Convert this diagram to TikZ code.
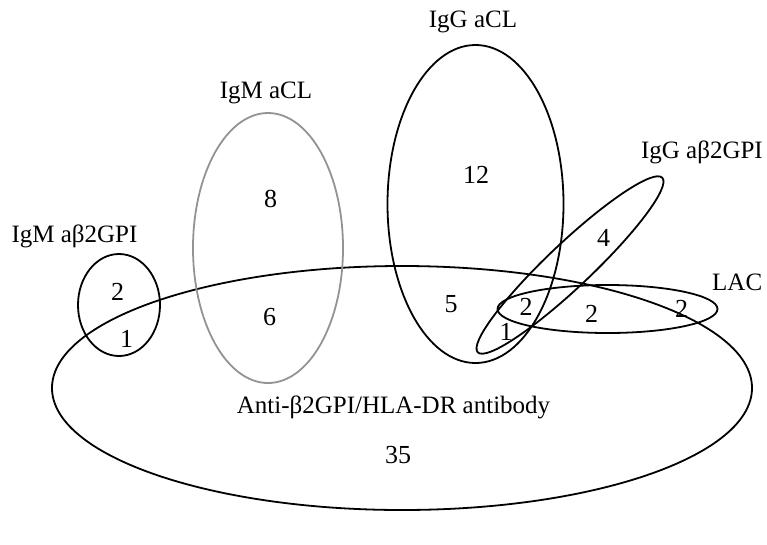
\documentclass[tikz,border=0pt]{standalone}
\usepackage{fontspec}
\setmainfont{Liberation Serif}
\begin{document}
\begin{tikzpicture}[x=1pt,y=-1pt,
  setline/.style={line width=1.8pt,black},
  greyline/.style={line width=1.8pt,gray!85},
  lbl/.style={font=\fontsize{25}{28}\selectfont,inner sep=0pt,anchor=base},
  num/.style={font=\fontsize{26}{28}\selectfont,inner sep=0pt,anchor=base}]
\useasboundingbox (0,0) rectangle (767,544);
% sets
\draw[setline] (402,388) ellipse [x radius=350pt, y radius=122pt];
\draw[setline] (119,305) ellipse [x radius=41pt, y radius=51pt];
\draw[greyline] (268,248) ellipse [x radius=75pt, y radius=135pt];
\draw[setline] (475.5,204) ellipse [x radius=88pt, y radius=159pt];
\draw[setline,rotate around={43.4:(570,265)}] (570,265) ellipse [x radius=127pt, y radius=22pt];
\draw[setline] (607.5,309) ellipse [x radius=110pt, y radius=24pt];
% set names
\node[lbl] (igGacl) at (473,27) {IgG aCL};
\node[lbl] (igMacl) at (266,98) {IgM aCL};
\node[lbl,anchor=base east] (igGb2) at (763,158) {IgG aβ2GPI};
\node[lbl] (igMb2) at (74.5,242) {IgM aβ2GPI};
\node[lbl,anchor=base west] (lac) at (712,290) {LAC};
\node[lbl] (hla) at (393.5,413) {Anti-β2GPI/HLA-DR antibody};
% counts
\node[num] (n35) at (398,463) {35};
\node[num] (n12) at (476,183) {12};
\node[num] (n8) at (270.5,207) {8};
\node[num] (n6) at (269.5,325) {6};
\node[num] (m2) at (117.5,300) {2};
\node[num] (m1) at (126.5,347) {1};
\node[num] (n5) at (451,312) {5};
\node[num] (t2) at (526,315) {2};
\node[num] (t1) at (506,340) {1};
\node[num] (l2a) at (591.5,322) {2};
\node[num] (l2b) at (681.5,317) {2};
\node[num] (n4) at (603.5,246) {4};
\end{tikzpicture}
\end{document}
